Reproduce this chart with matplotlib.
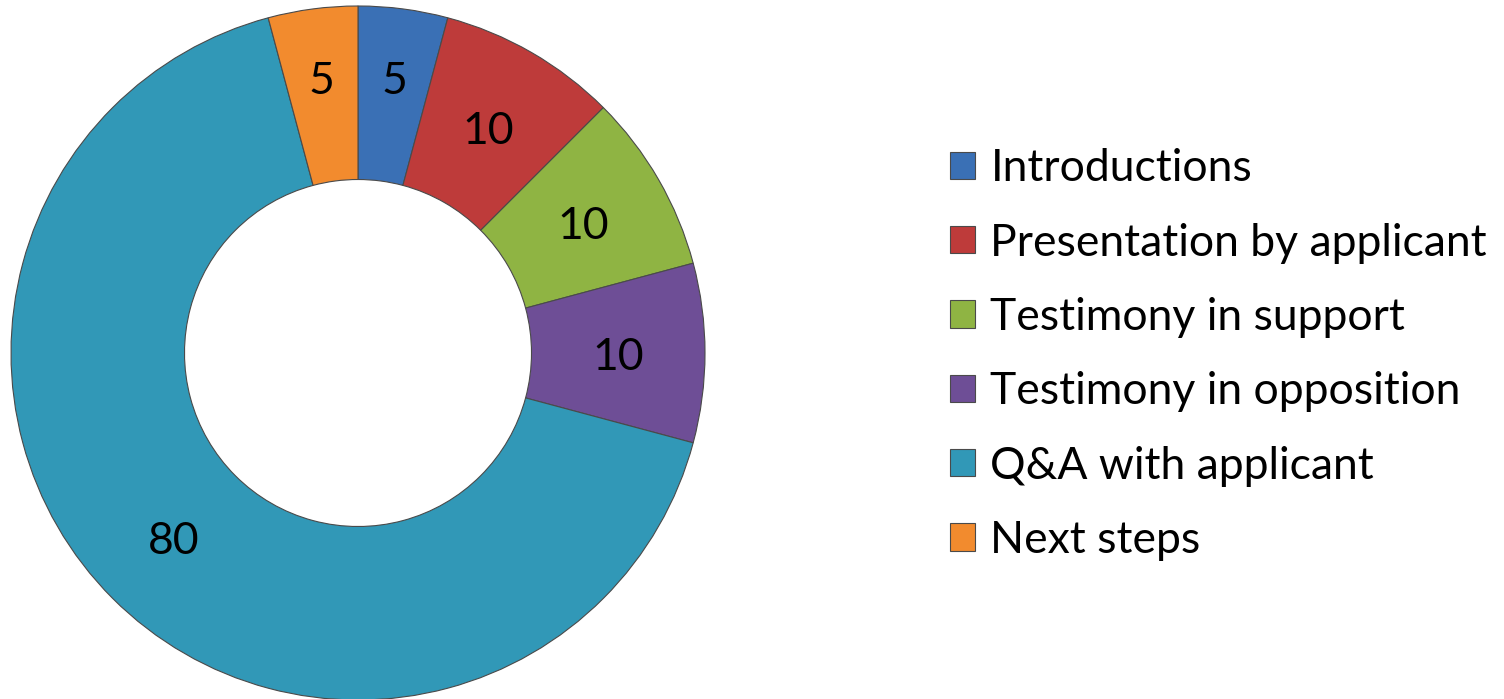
import numpy as np
import matplotlib.pyplot as plt
from matplotlib.patches import Patch

# agenda minutes per item
items = ['Introductions', 'Presentation by applicant', 'Testimony in support',
         'Testimony in opposition', 'Q&A with applicant', 'Next steps']
minutes = [5, 10, 10, 10, 80, 5]
colors = ['#3a70b5', '#be3b3a', '#8fb443', '#6e4e96', '#3198b7', '#f28b2e']

plt.rcParams['font.family'] = ['Lato', 'DejaVu Sans']

fig = plt.figure(figsize=(15.04, 6.99), dpi=100)
# donut axes: centre ~(358, 353) px, radius ~347 px
ax = fig.add_axes([11 / 1504, -1 / 699, 694 / 1504, 694 / 699])

wedges, texts = ax.pie(minutes, colors=colors, startangle=90, counterclock=False,
                       radius=1.0, labels=[str(m) for m in minutes], labeldistance=0.75,
                       wedgeprops=dict(width=0.5, edgecolor='#4a4a4a', linewidth=0.8))
for w, t in zip(wedges, texts):
    t.set_fontsize(32)
    t.set_color('black')
    t.set_ha('center')
    t.set_va('center_baseline')
    # the narrow slices at the top get their label pushed a bit outward
    if abs(w.theta2 - w.theta1) < 20:
        a = np.deg2rad((w.theta1 + w.theta2) / 2)
        t.set_position((0.8 * np.cos(a), 0.8 * np.sin(a)))
ax.set_xlim(-1, 1)
ax.set_ylim(-1, 1)
ax.set_aspect('equal')
ax.axis('off')

handles = [Patch(facecolor=c, edgecolor='#4a4a4a', linewidth=0.8) for c in colors]
fig.legend(handles, items, loc='center left', bbox_to_anchor=(950 / 1504, 344.5 / 699),
           frameon=False, fontsize=32, handlelength=0.57, handleheight=0.57,
           handletextpad=0.34, labelspacing=0.75, borderpad=0, borderaxespad=0)

fig.savefig('out.png', dpi=100)
